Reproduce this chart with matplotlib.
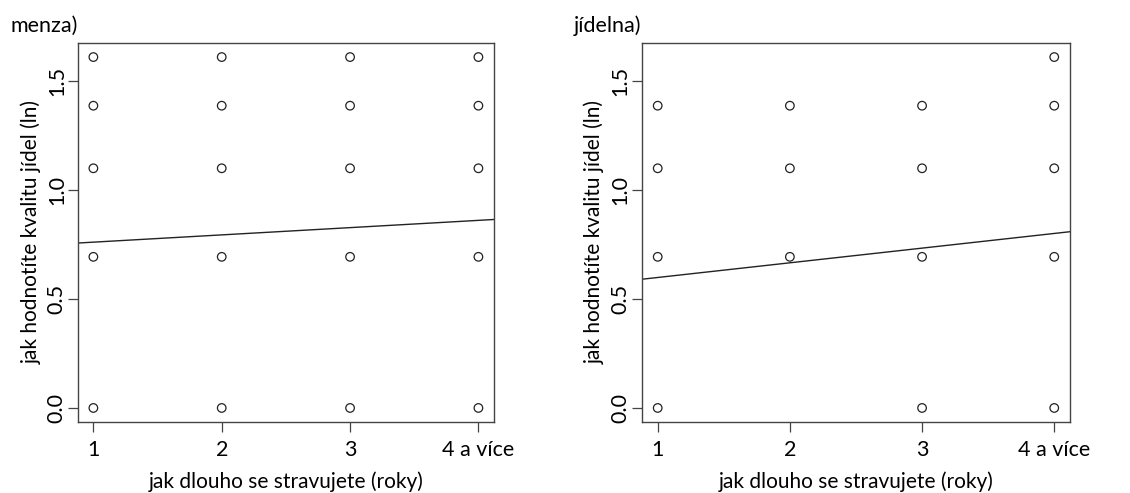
import matplotlib
matplotlib.use("Agg")
import matplotlib.pyplot as plt

plt.rcParams["font.family"] = ["Lato", "DejaVu Sans"]

# years of eating there (1..4, "4 a více") vs. ln of quality rating
years = [1, 2, 3, 4]
year_labels = ["1", "2", "3", "4 a více"]

menza_x = [1, 1, 1, 1, 1, 2, 2, 2, 2, 2, 3, 3, 3, 3, 3, 4, 4, 4, 4, 4]
menza_y = [0.0, 0.693, 1.099, 1.386, 1.609] * 4

jidelna_x = [1, 1, 1, 1, 2, 2, 2, 3, 3, 3, 3, 4, 4, 4, 4, 4]
jidelna_y = [0.0, 0.693, 1.099, 1.386,
             0.693, 1.099, 1.386,
             0.0, 0.693, 1.099, 1.386,
             0.0, 0.693, 1.099, 1.386, 1.609]

# fitted lines: intercept, slope
menza_fit = (0.727, 0.0333)
jidelna_fit = (0.531, 0.0673)

y_ticks = [0.0, 0.5, 1.0, 1.5]

panels = [
    ("menza)", menza_x, menza_y, menza_fit, 0.069, 0.368),
    ("jídelna)", jidelna_x, jidelna_y, jidelna_fit, 0.568, 0.379),
]

fig = plt.figure(figsize=(11.3, 4.93), dpi=100)

for title, xs, ys, (a, b), left, width in panels:
    ax = fig.add_axes([left, 0.144, width, 0.769])
    ax.scatter(xs, ys, s=38, facecolors="none", edgecolors="#222222",
               linewidths=0.9, zorder=3)
    ax.set_xlim(0.88, 4.12)
    ax.set_ylim(-0.0644, 1.674)
    ax.axline((0, a), slope=b, color="#222222", linewidth=1.0)

    ax.set_xticks(years)
    ax.set_xticklabels(year_labels)
    ax.set_yticks(y_ticks)
    ax.set_yticklabels([f"{t:.1f}" for t in y_ticks], rotation=90, va="center")
    ax.tick_params(direction="out", length=7, width=0.9, color="#444444",
                   labelsize=15.5)
    ax.tick_params(axis="x", pad=6)
    ax.tick_params(axis="y", pad=1)
    for side in ax.spines.values():
        side.set_color("#444444")
        side.set_linewidth(1.0)

    ax.set_xlabel("jak dlouho se stravujete (roky)", fontsize=15, labelpad=8)
    ax.set_ylabel("jak hodnotíte kvalitu jídel (ln)", fontsize=15, labelpad=4)

    fig.text(left - 0.06, 0.948, title, fontsize=15.5, ha="left", va="center")

fig.savefig("out.png", dpi=100)
